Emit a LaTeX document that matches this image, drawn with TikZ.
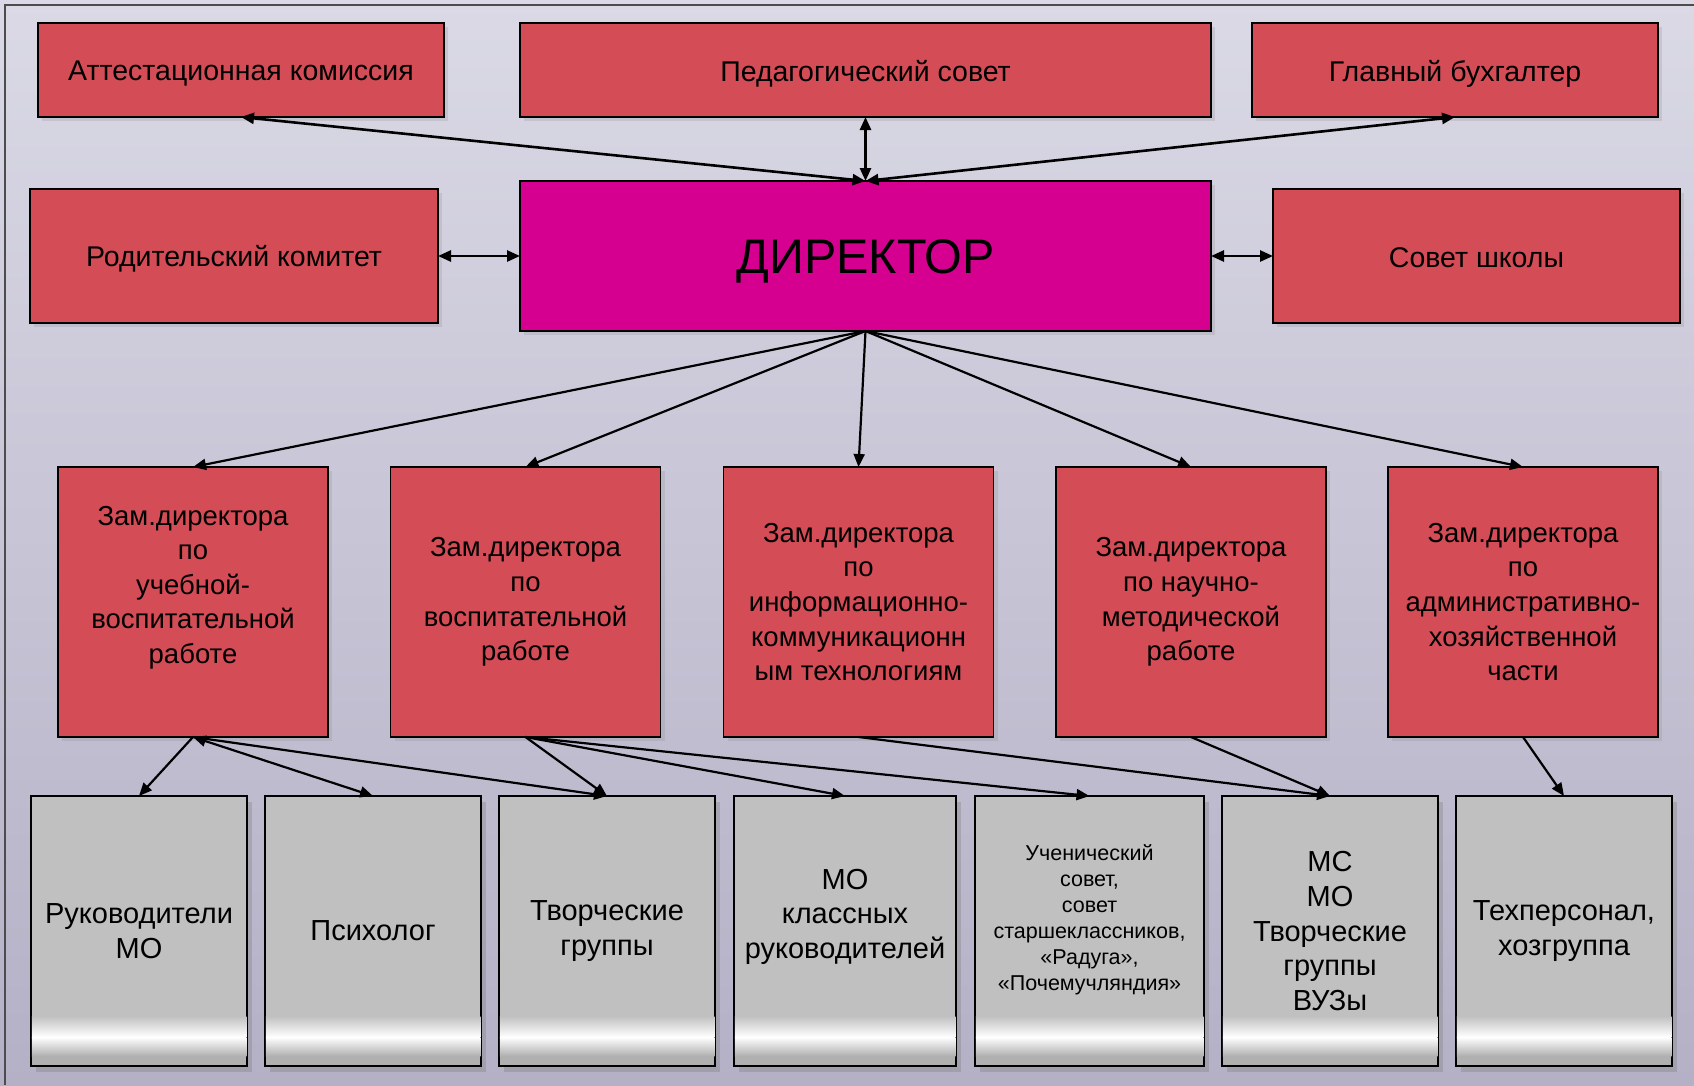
\documentclass[tikz,border=0pt]{standalone}
\usepackage{fontspec}
\setmainfont{Liberation Sans}
\usetikzlibrary{arrows.meta}
\usetikzlibrary{shadows}
\definecolor{redcol}{HTML}{D44C56}
\definecolor{dircol}{HTML}{D5008F}
\definecolor{boxgray}{HTML}{C0C0C0}
\definecolor{boxdark}{HTML}{B0B0B0}
\definecolor{bgtop}{HTML}{DAD9E5}
\definecolor{bgbottom}{HTML}{B4B0C6}
\newcommand{\lowered}[2][4pt]{\raisebox{-#1}[\height][\depth]{#2}}
\tikzstyle{redbox} = [draw=black, line width=1.5pt, fill=redcol, inner sep=0pt, outer sep=0pt, align=center, font=\fontsize{28.5}{34.6}\selectfont, drop shadow={opacity=0.2, shadow xshift=4pt, shadow yshift=-4pt}]
\tikzstyle{zambox} = [redbox, minimum width=270pt, minimum height=250pt, font=\fontsize{27.5}{34.6}\selectfont]
\tikzstyle{graybox} = [draw=black, line width=1.5pt, fill=boxgray, inner sep=0pt, outer sep=0pt, align=center, minimum height=270pt, font=\fontsize{29}{34.6}\selectfont, drop shadow={opacity=0.35, shadow xshift=5pt, shadow yshift=-6pt}]
\tikzstyle{conn} = [line width=2.2pt, -{Triangle[length=13pt,width=11pt]}]
\tikzstyle{biconn} = [line width=2.6pt, {Triangle[length=13pt,width=11pt]}-{Triangle[length=13pt,width=11pt]}]

\begin{document}
\begin{tikzpicture}[x=1pt,y=-1pt]
	\useasboundingbox (0,0) rectangle (1694,1085);
	\shade[top color=bgtop, bottom color=bgbottom] (0,0) rectangle (1694,1085);
	\draw[line width=1.5pt, black!70] (5,1085) -- (5,5) -- (1694,5);
	% top row
	\node[redbox, minimum width=406pt, minimum height=94pt] (attest) at (241,70) {\lowered{Аттестационная комиссия}};
	\node[redbox, minimum width=691pt, minimum height=94pt] (pedsov) at (865.5,70) {\lowered{Педагогический совет}};
	\node[redbox, minimum width=406pt, minimum height=94pt] (buh) at (1455,70) {\lowered{Главный бухгалтер}};
	\node[redbox, minimum width=408pt, minimum height=134pt] (roditel) at (234,256) {\lowered[3pt]{Родительский комитет}};
	\node[redbox, fill=dircol, minimum width=691pt, minimum height=150pt, font=\fontsize{48.5}{50}\selectfont] (dir) at (865.5,256) {\lowered[5pt]{ДИРЕКТОР}};
	\node[redbox, minimum width=407pt, minimum height=134pt] (sovet) at (1476.5,256) {\lowered[2pt]{Совет школы}};
	% deputies
	\node[zambox, minimum height=270pt] (zamuvr) at (193,602) {Зам.директора\\по\\учебной-\\воспитательной\\работе\\\mbox{}};
	\node[zambox, minimum height=270pt] (zamvr) at (525.5,602) {Зам.директора\\по\\воспитательной\\работе};
	\node[zambox, minimum height=270pt] (zamikt) at (858.5,602) {Зам.директора\\по\\информационно-\\коммуникационн\\ым технологиям};
	\node[zambox, minimum height=270pt] (zamnmr) at (1191,602) {Зам.директора\\по научно-\\методической\\работе};
	\node[zambox, minimum height=270pt] (zamahch) at (1523,602) {Зам.директора\\по\\административно-\\хозяйственной\\части};
	% bottom row
	\node[graybox, minimum width=216pt] (rukmo) at (139,931) {Руководители\\МО};
	\node[graybox, minimum width=216pt] (psiholog) at (373,931) {Психолог};
	\node[graybox, minimum width=216pt] (tvorgr) at (607,931) {Творческие\\группы};
	\node[graybox, minimum width=222pt] (moklass) at (845,931) {МО\\классных\\руководителей\\\mbox{}};
	\node[graybox, minimum width=229pt, font=\fontsize{21.5}{26}\selectfont] (uchsovet) at (1089.5,931) {Ученический\\совет,\\совет\\старшеклассников,\\«Радуга»,\\«Почемучляндия»\\\mbox{}};
	\node[graybox, minimum width=216pt] (msmo) at (1330,931) {МС\\МО\\Творческие\\группы\\ВУЗы};
	\node[graybox, minimum width=216pt] (tehpers) at (1564,931) {Техперсонал,\\хозгруппа};
	% glossy strip at the foot of the grey boxes
	\foreach \b in {rukmo,psiholog,tvorgr,moklass,uchsovet,msmo,tehpers}{
		\shade[top color=boxgray, bottom color=white] ([xshift=0.75pt,yshift=50pt]\b.south west) rectangle ([xshift=-0.75pt,yshift=29pt]\b.south east);
		\shade[top color=white, bottom color=boxdark] ([xshift=0.75pt,yshift=29pt]\b.south west) rectangle ([xshift=-0.75pt,yshift=10pt]\b.south east);
		\fill[boxdark] ([xshift=0.75pt,yshift=10pt]\b.south west) rectangle ([xshift=-0.75pt,yshift=0.75pt]\b.south east);
	}
	% links
	\draw[biconn] (attest.south) -- (dir.north);
	\draw[biconn] (pedsov.south) -- (dir.north);
	\draw[biconn] (buh.south) -- (dir.north);
	\draw[biconn] (roditel.east) -- (dir.west);
	\draw[biconn] (dir.east) -- (sovet.west);
	\draw[conn] (dir.south) -- (zamuvr.north);
	\draw[conn] (dir.south) -- (zamvr.north);
	\draw[conn] (dir.south) -- (zamikt.north);
	\draw[conn] (dir.south) -- (zamnmr.north);
	\draw[conn] (dir.south) -- (zamahch.north);
	\draw[conn] (zamuvr.south) -- (rukmo.north);
	\draw[conn, {Triangle[length=13pt,width=11pt]}-{Triangle[length=13pt,width=11pt]}] (zamuvr.south) -- (psiholog.north);
	\draw[conn] (zamuvr.south) -- (tvorgr.north);
	\draw[conn] (zamvr.south) -- (tvorgr.north);
	\draw[conn] (zamvr.south) -- (moklass.north);
	\draw[conn] (zamvr.south) -- (uchsovet.north);
	\draw[conn] (zamikt.south) -- (msmo.north);
	\draw[conn] (zamnmr.south) -- (msmo.north);
	\draw[conn] (zamahch.south) -- (tehpers.north);
\end{tikzpicture}
\end{document}
